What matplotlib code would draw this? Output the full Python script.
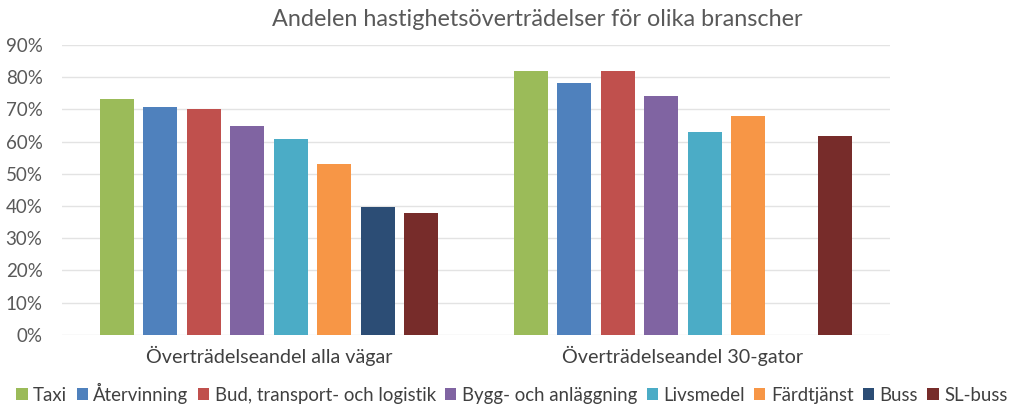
import matplotlib
matplotlib.use('Agg')
import matplotlib.pyplot as plt
import numpy as np

plt.rcParams['font.family'] = ['Lato', 'DejaVu Sans']

# Data
categories = ['Överträdelseandel alla vägar', 'Överträdelseandel 30-gator']
branscher = ['Taxi', 'Återvinning', 'Bud, transport- och logistik', 'Bygg- och anläggning',
             'Livsmedel', 'Färdtjänst', 'Buss', 'SL-buss']
alla_vagar = [73.2, 70.8, 70.2, 64.9, 60.8, 53.2, 39.7, 37.8]
gator_30 = [82.0, 78.1, 82.0, 74.1, 62.9, 68.0, np.nan, 61.9]
colors = ['#9BBB59', '#4F81BD', '#C0504D', '#8064A2', '#4BACC6', '#F79646', '#2C4D75', '#772C2A']

fig = plt.figure(figsize=(10.24, 4.17), dpi=100)
ax = fig.add_axes([0.0605, 0.197, 0.8085, 0.695])

x = np.arange(len(categories))
slot = 0.105
width = 0.082
for i, name in enumerate(branscher):
    vals = [alla_vagar[i], gator_30[i]]
    ax.bar(x + (i - 3.5) * slot, vals, width, color=colors[i], label=name, zorder=2)

ax.set_xlim(-0.5, 1.5)
ax.set_ylim(0, 90)
ax.set_yticks(np.arange(0, 91, 10))
ax.set_yticklabels([f'{v}%' for v in range(0, 91, 10)], fontsize=13.5, color='#595959')
ax.set_xticks(x)
ax.set_xticklabels(categories, fontsize=14.2, color='#404040')
ax.tick_params(axis='both', length=0)
ax.tick_params(axis='x', pad=8)
ax.tick_params(axis='y', pad=14)
ax.grid(axis='y', color='#e3e3e3', linewidth=1, zorder=0)
for s in ax.spines.values():
    s.set_visible(False)

fig.text(537 / 1024, 1 - 20 / 417, 'Andelen hastighetsöverträdelser för olika branscher',
         ha='center', va='center', fontsize=16.8, color='#595959')

fig.legend(loc='center', bbox_to_anchor=(0.5, 1 - 393 / 417), ncol=8, frameon=False,
           fontsize=13.4, handlelength=0.6, handleheight=0.6, handletextpad=0.3,
           columnspacing=0.5, labelcolor='#404040')

fig.savefig('out.png', dpi=100)
